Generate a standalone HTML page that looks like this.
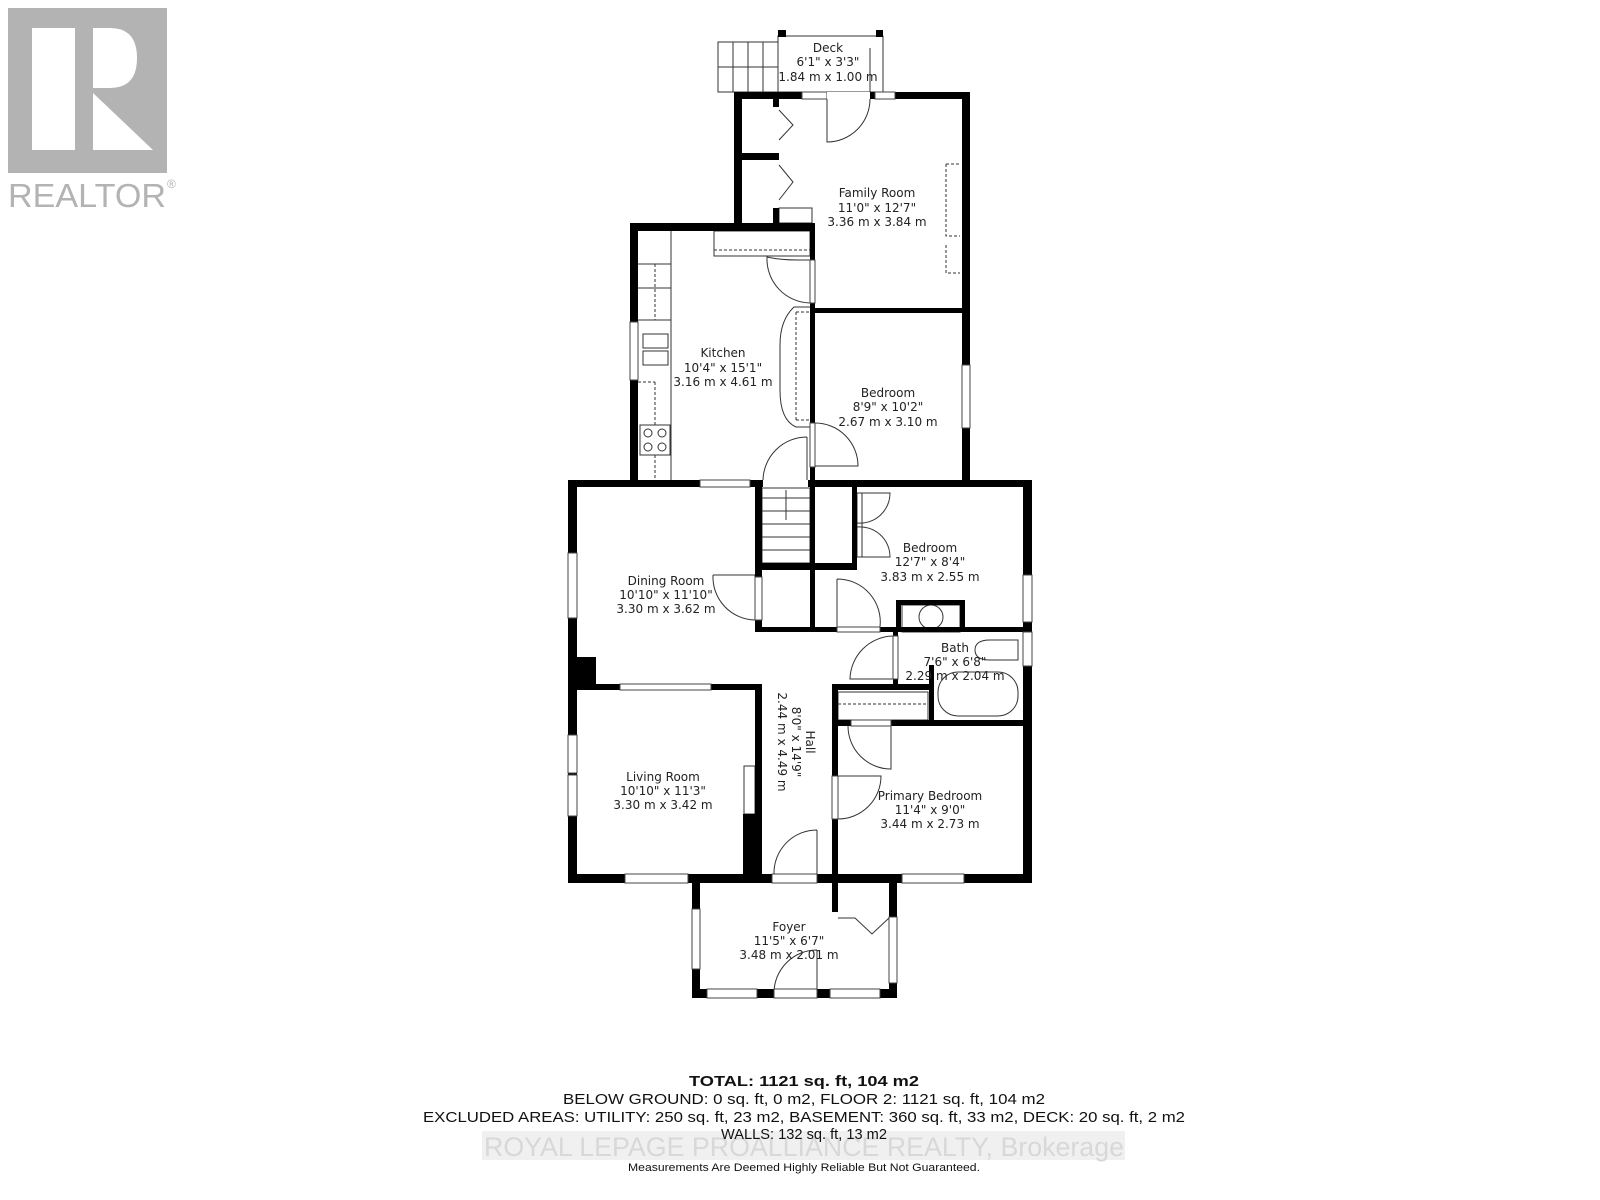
<!DOCTYPE html>
<html><head><meta charset="utf-8"><style>
html,body{margin:0;padding:0;background:#fff;}
svg{display:block;}
</style></head><body>
<svg width="1600" height="1200" viewBox="0 0 1600 1200" xmlns="http://www.w3.org/2000/svg">
<rect width="1600" height="1200" fill="#fff"/>
<!-- REALTOR logo -->
<rect x="8" y="8" width="159" height="165" fill="#b3b3b3"/>
<rect x="32" y="28" width="43" height="122" fill="#fff"/>
<path d="M93 28 H110 Q137 28 137 58 Q137 88 110 88 H93 Z" fill="#fff"/>
<path d="M93 93 L153 150 L93 150 Z" fill="#fff"/>
<text x="8" y="207" font-family="Liberation Sans, sans-serif" font-size="33" fill="#b3b3b3" textLength="158" lengthAdjust="spacingAndGlyphs">REALTOR</text>
<text x="167" y="188" font-family="Liberation Sans, sans-serif" font-size="12" fill="#b3b3b3">®</text>

<g stroke="#333" stroke-width="1" fill="none">
<!-- deck -->
<rect x="778" y="36" width="105" height="56"/>
<rect x="718" y="42" width="60" height="50"/>
<line x1="733" y1="42" x2="733" y2="92"/><line x1="748" y1="42" x2="748" y2="92"/><line x1="763" y1="42" x2="763" y2="92"/>
<line x1="718" y1="67" x2="778" y2="67"/>
<path d="M827 92 V142 A43 43 0 0 0 870 99"/>
<line x1="870" y1="48" x2="870" y2="92"/>
<!-- closet doors family room -->
<path d="M779 110 L793 125 L779 140"/><path d="M779 165 L793 182 L779 200"/>
<rect x="779" y="208" width="33" height="15"/>
<!-- family room dashed -->
<path d="M946 164 H960 M946 164 V236 H960 M946 245 V273 H960" stroke-dasharray="3,2"/>
<!-- kitchen -->
<rect x="714" y="231" width="96" height="25"/>
<line x1="714" y1="250" x2="810" y2="250" stroke-dasharray="3,2"/>
<line x1="671" y1="231" x2="671" y2="482"/>
<line x1="638" y1="264" x2="671" y2="264"/><line x1="638" y1="288" x2="671" y2="288"/><line x1="638" y1="320" x2="671" y2="320"/>
<line x1="655" y1="264" x2="655" y2="320" stroke-dasharray="3,2"/>
<rect x="643" y="334" width="25" height="14"/><rect x="643" y="351" width="25" height="14"/>
<line x1="655" y1="382" x2="655" y2="425" stroke-dasharray="3,2"/>
<line x1="638" y1="382" x2="655" y2="382" stroke-dasharray="3,2"/>
<rect x="640" y="425" width="30" height="30"/>
<circle cx="648" cy="433" r="4"/><circle cx="662" cy="433" r="4"/><circle cx="648" cy="447" r="4"/><circle cx="662" cy="447" r="4"/>
<line x1="655" y1="455" x2="655" y2="482" stroke-dasharray="3,2"/>
<path d="M810 260 H798 Q780 260 767 257 A44 44 0 0 0 810 303"/>
<path d="M810 307 H794 Q780 320 780 345 V390 Q780 420 796 427 H810"/>
<line x1="796" y1="312" x2="810" y2="312" stroke-dasharray="3,2"/><line x1="796" y1="312" x2="796" y2="420" stroke-dasharray="3,2"/><line x1="796" y1="420" x2="810" y2="420" stroke-dasharray="3,2"/>
<path d="M807 437 A44 44 0 0 0 763 481 M807 437 V481"/>
<path d="M815 423 A43 43 0 0 1 858 466 H815"/>
<!-- stairs -->
<rect x="762" y="488" width="48" height="75"/>
<line x1="762" y1="498" x2="810" y2="498"/><line x1="762" y1="511" x2="810" y2="511"/><line x1="762" y1="524" x2="810" y2="524"/><line x1="762" y1="537" x2="810" y2="537"/><line x1="762" y1="550" x2="810" y2="550"/>
<line x1="786" y1="490" x2="786" y2="520"/>
<!-- bedroom2 closet doors -->
<path d="M857 493 H890 A30 30 0 0 1 857 523 M857 527 A30 30 0 0 1 890 557 H857"/>
<rect x="857" y="493" width="5" height="64"/>
<path d="M837 579 A43 43 0 0 1 880 627 M837 579 V627"/>
<!-- dining door -->
<path d="M713 575 H755 V620 A43 43 0 0 1 713 575"/>
<!-- bath -->
<rect x="902" y="605" width="58" height="27"/>
<circle cx="931" cy="617" r="12"/>
<path d="M893 636 A44 44 0 0 0 850 679 H893"/>
<path d="M990 640 H1018 V660 H990 Q975 660 975 650 Q975 640 990 640"/>
<rect x="938" y="672" width="80" height="44" rx="20"/>
<rect x="838" y="692" width="90" height="28"/><line x1="838" y1="704" x2="928" y2="704" stroke-dasharray="3,2"/>
<path d="M848 726 A43 43 0 0 0 891 769 V726"/>
<path d="M838 776 H881 A43 43 0 0 1 838 819"/>
<!-- hall door -->
<path d="M817 830 A43 43 0 0 0 774 874 M817 830 V874"/>
<!-- foyer -->
<path d="M838 918 H855 L872 934 L889 918"/>
<path d="M817 950 A43 43 0 0 0 774 993 M817 950 V993"/>
<!-- fireplace -->
<rect x="744" y="766" width="11" height="48"/>
</g>

<g fill="#000">
<rect x="734" y="92" width="236" height="7"/>
<rect x="734" y="92" width="8" height="139"/>
<rect x="962" y="92" width="8" height="395"/>
<rect x="773" y="99" width="6" height="8"/>
<rect x="742" y="153" width="37" height="7"/>
<rect x="773" y="208" width="6" height="23"/>
<rect x="810" y="308" width="152" height="5"/>
<rect x="778" y="30" width="8" height="7"/><rect x="876" y="30" width="7" height="7"/>
<rect x="630" y="223" width="185" height="8"/>
<rect x="630" y="223" width="8" height="264"/>
<rect x="810" y="231" width="5" height="29"/>
<rect x="810" y="303" width="5" height="120"/>
<rect x="810" y="467" width="5" height="20"/>
<rect x="568" y="480" width="464" height="7"/>
<rect x="568" y="480" width="9" height="403"/>
<rect x="1023" y="480" width="9" height="403"/>
<rect x="568" y="874" width="464" height="9"/>
<rect x="568" y="684" width="187" height="6"/>
<rect x="568" y="657" width="28" height="27"/>
<rect x="755" y="480" width="7" height="152"/>
<rect x="755" y="684" width="7" height="190"/>
<rect x="743" y="814" width="12" height="60"/>
<rect x="810" y="480" width="5" height="152"/>
<rect x="762" y="563" width="95" height="7"/>
<rect x="852" y="487" width="5" height="83"/>
<rect x="755" y="627" width="277" height="5"/>
<rect x="896" y="600" width="69" height="5"/>
<rect x="896" y="600" width="5" height="30"/>
<rect x="960" y="600" width="5" height="30"/>
<rect x="893" y="632" width="5" height="4"/>
<rect x="893" y="679" width="5" height="6"/>
<rect x="832" y="684" width="102" height="6"/>
<rect x="929" y="665" width="5" height="60"/>
<rect x="832" y="684" width="6" height="190"/>
<rect x="832" y="720" width="200" height="6"/>
<rect x="692" y="874" width="8" height="124"/>
<rect x="889" y="874" width="8" height="124"/>
<rect x="692" y="989" width="205" height="9"/>
<rect x="832" y="874" width="6" height="38"/>
</g>

<g fill="#fff" stroke="#444" stroke-width="1">
<rect x="802" y="92" width="25" height="7"/><rect x="827" y="92" width="43" height="7" stroke="none"/><rect x="875" y="92" width="20" height="7"/>
<rect x="810" y="260" width="5" height="43"/>
<rect x="810" y="423" width="5" height="44"/>
<rect x="962" y="365" width="8" height="63"/>
<rect x="630" y="322" width="8" height="58"/>
<rect x="700" y="480" width="50" height="7"/>
<rect x="763" y="480" width="45" height="7" stroke="none"/>
<rect x="568" y="553" width="9" height="65"/>
<rect x="568" y="735" width="9" height="38"/><rect x="568" y="775" width="9" height="41"/>
<rect x="620" y="684" width="91" height="6"/>
<rect x="755" y="577" width="7" height="43"/>
<rect x="755" y="632" width="7" height="52" stroke="none"/>
<rect x="837" y="627" width="43" height="5"/>
<rect x="1023" y="575" width="9" height="47"/>
<rect x="1023" y="632" width="9" height="34"/>
<rect x="893" y="636" width="5" height="43"/>
<rect x="832" y="776" width="6" height="43"/>
<rect x="851" y="720" width="40" height="6"/>
<rect x="625" y="874" width="63" height="9"/>
<rect x="772" y="874" width="45" height="9"/>
<rect x="902" y="874" width="62" height="9"/>
<rect x="692" y="909" width="8" height="60"/>
<rect x="889" y="917" width="8" height="66"/>
<rect x="707" y="989" width="50" height="9"/>
<rect x="774" y="989" width="43" height="9"/>
<rect x="830" y="989" width="50" height="9"/>
</g>

<g font-family="DejaVu Sans, sans-serif" font-size="12" fill="#222" text-anchor="middle">
<text x="828" y="52">Deck</text><text x="828" y="66">6'1" x 3'3"</text><text x="828" y="81">1.84 m x 1.00 m</text>
<text x="877" y="197">Family Room</text><text x="877" y="212">11'0" x 12'7"</text><text x="877" y="226">3.36 m x 3.84 m</text>
<text x="723" y="357">Kitchen</text><text x="723" y="372">10'4" x 15'1"</text><text x="723" y="386">3.16 m x 4.61 m</text>
<text x="888" y="397">Bedroom</text><text x="888" y="411">8'9" x 10'2"</text><text x="888" y="426">2.67 m x 3.10 m</text>
<text x="930" y="552">Bedroom</text><text x="930" y="566">12'7" x 8'4"</text><text x="930" y="581">3.83 m x 2.55 m</text>
<text x="666" y="585">Dining Room</text><text x="666" y="599">10'10" x 11'10"</text><text x="666" y="613">3.30 m x 3.62 m</text>
<text x="955" y="652">Bath</text><text x="955" y="666">7'6" x 6'8"</text><text x="955" y="680">2.29 m x 2.04 m</text>
<text x="663" y="781">Living Room</text><text x="663" y="795">10'10" x 11'3"</text><text x="663" y="809">3.30 m x 3.42 m</text>
<text x="930" y="800">Primary Bedroom</text><text x="930" y="814">11'4" x 9'0"</text><text x="930" y="828">3.44 m x 2.73 m</text>
<text x="789" y="931">Foyer</text><text x="789" y="945">11'5" x 6'7"</text><text x="789" y="959">3.48 m x 2.01 m</text>
<g transform="translate(796,742) rotate(90)"><text x="0" y="-10">Hall</text><text x="0" y="4">8'0" x 14'9"</text><text x="0" y="18">2.44 m x 4.49 m</text></g>
</g>

<g font-family="Liberation Sans Narrow, Liberation Sans, sans-serif" fill="#111" text-anchor="middle">
<text x="804" y="1086" font-size="15" font-weight="bold" textLength="230" lengthAdjust="spacingAndGlyphs">TOTAL: 1121 sq. ft, 104 m2</text>
<text x="804" y="1104" font-size="15" textLength="482" lengthAdjust="spacingAndGlyphs">BELOW GROUND: 0 sq. ft, 0 m2, FLOOR 2: 1121 sq. ft, 104 m2</text>
<text x="804" y="1122" font-size="15" textLength="762" lengthAdjust="spacingAndGlyphs">EXCLUDED AREAS: UTILITY: 250 sq. ft, 23 m2, BASEMENT: 360 sq. ft, 33 m2, DECK: 20 sq. ft, 2 m2</text>
<rect x="482" y="1131" width="643" height="29" fill="#f0f0f0"/>
<text x="804" y="1156" font-size="27" fill="#d8d8d8" textLength="640" lengthAdjust="spacingAndGlyphs">ROYAL LEPAGE PROALLIANCE REALTY, Brokerage</text>
<text x="804" y="1139" font-size="15" textLength="166" lengthAdjust="spacingAndGlyphs">WALLS: 132 sq. ft, 13 m2</text>
<text x="804" y="1171" font-size="11" textLength="352" lengthAdjust="spacingAndGlyphs">Measurements Are Deemed Highly Reliable But Not Guaranteed.</text>
</g>
</svg>
</body></html>
